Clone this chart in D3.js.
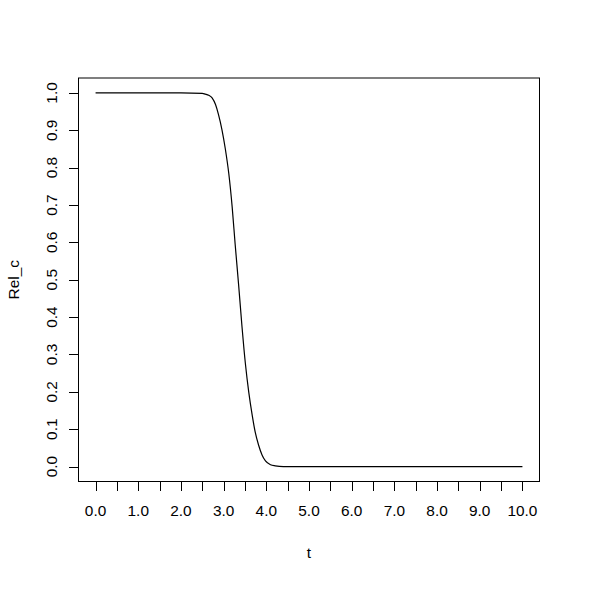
<!DOCTYPE html>
<html>
<head>
<meta charset="utf-8">
<title>Rel_c</title>
<script src="https://d3js.org/d3.v7.min.js"></script>
<style>
body { margin: 0; padding: 0; background: white; }
text { font-family: "Liberation Sans", Arial, sans-serif; font-size: 15.4px; fill: black; }
</style>
</head>
<body>
<div id="chart"></div>
<script>

// values
var tVals   = [0, 1, 2, 2.5, 2.57, 2.65, 2.73, 2.81, 2.88, 2.96, 3.04, 3.12, 3.20, 3.27, 3.35, 3.43, 3.51, 3.59, 3.67, 3.74, 3.82, 3.90, 3.98, 4.10, 4.21, 4.40, 5, 6, 7, 8, 9, 10];
var relVals = [1, 1, 1, 0.999, 0.997, 0.994, 0.987, 0.969, 0.942, 0.902, 0.850, 0.785, 0.695, 0.595, 0.488, 0.375, 0.275, 0.198, 0.137, 0.092, 0.057, 0.031, 0.015, 0.005, 0.002, 0.0, 0, 0, 0, 0, 0, 0];
var xTicks = [0, 0.5, 1, 1.5, 2, 2.5, 3, 3.5, 4, 4.5, 5, 5.5, 6, 6.5, 7, 7.5, 8, 8.5, 9, 9.5, 10];
var xLabels = [0, 1, 2, 3, 4, 5, 6, 7, 8, 9, 10];
var yTicks = [0, 0.1, 0.2, 0.3, 0.4, 0.5, 0.6, 0.7, 0.8, 0.9, 1.0];

var width = 600, height = 590;
var box = {left: 78.5, right: 539.5, top: 78, bottom: 481.5};

var svg = d3.select('#chart')
  .append('svg')
    .attr('width', width)
    .attr('height', height);

// R style: 4% padding on each side
var x = d3.scaleLinear().domain([-0.4, 10.4]).range([box.left, box.right]);
var y = d3.scaleLinear().domain([-0.04, 1.04]).range([box.bottom, box.top]);

// plot frame
svg.append('rect')
  .attr('x', box.left).attr('y', box.top)
  .attr('width', box.right - box.left).attr('height', box.bottom - box.top)
  .attr('fill', 'none').attr('stroke', 'black').attr('stroke-width', 1);

// x axis: ticks every 0.5, labels on whole numbers
var xAxis = svg.append('g').attr('transform', 'translate(0,' + box.bottom + ')');
xAxis.selectAll('line').data(xTicks).enter().append('line')
  .attr('x1', function(d) { return Math.round(x(d)) + 0.5; })
  .attr('x2', function(d) { return Math.round(x(d)) + 0.5; })
  .attr('y1', 0).attr('y2', 9.5)
  .attr('stroke', 'black');
xAxis.selectAll('text').data(xLabels).enter().append('text')
  .attr('x', function(d) { return x(d); })
  .attr('y', 34)
  .attr('text-anchor', 'middle')
  .text(function(d) { return d3.format('.1f')(d); });

// y axis, rotated labels
var yAxis = svg.append('g').attr('transform', 'translate(' + box.left + ',0)');
yAxis.selectAll('line').data(yTicks).enter().append('line')
  .attr('x1', 0).attr('x2', -9.5)
  .attr('y1', function(d) { return Math.round(y(d)) + 0.5; })
  .attr('y2', function(d) { return Math.round(y(d)) + 0.5; })
  .attr('stroke', 'black');
yAxis.selectAll('text').data(yTicks).enter().append('text')
  .attr('transform', function(d) { return 'translate(-21.5,' + y(d) + ') rotate(-90)'; })
  .attr('text-anchor', 'middle')
  .text(function(d) { return d3.format('.1f')(d); });

// axis titles
svg.append('text')
  .attr('x', (box.left + box.right) / 2)
  .attr('y', 558)
  .attr('text-anchor', 'middle')
  .text('t');
svg.append('text')
  .attr('transform', 'translate(18.5,' + (box.top + box.bottom) / 2 + ') rotate(-90)')
  .attr('text-anchor', 'middle')
  .text('Rel_c');

// the curve
var pts = tVals.map(function(t, i) { return [t, relVals[i]]; });
var line = d3.line()
  .x(function(d) { return x(d[0]); })
  .y(function(d) { return y(d[1]); })
  .curve(d3.curveMonotoneX);
svg.append('path')
  .datum(pts)
  .attr('d', line)
  .attr('fill', 'none')
  .attr('stroke', 'black')
  .attr('stroke-width', 1.2);

</script>
</body>
</html>
